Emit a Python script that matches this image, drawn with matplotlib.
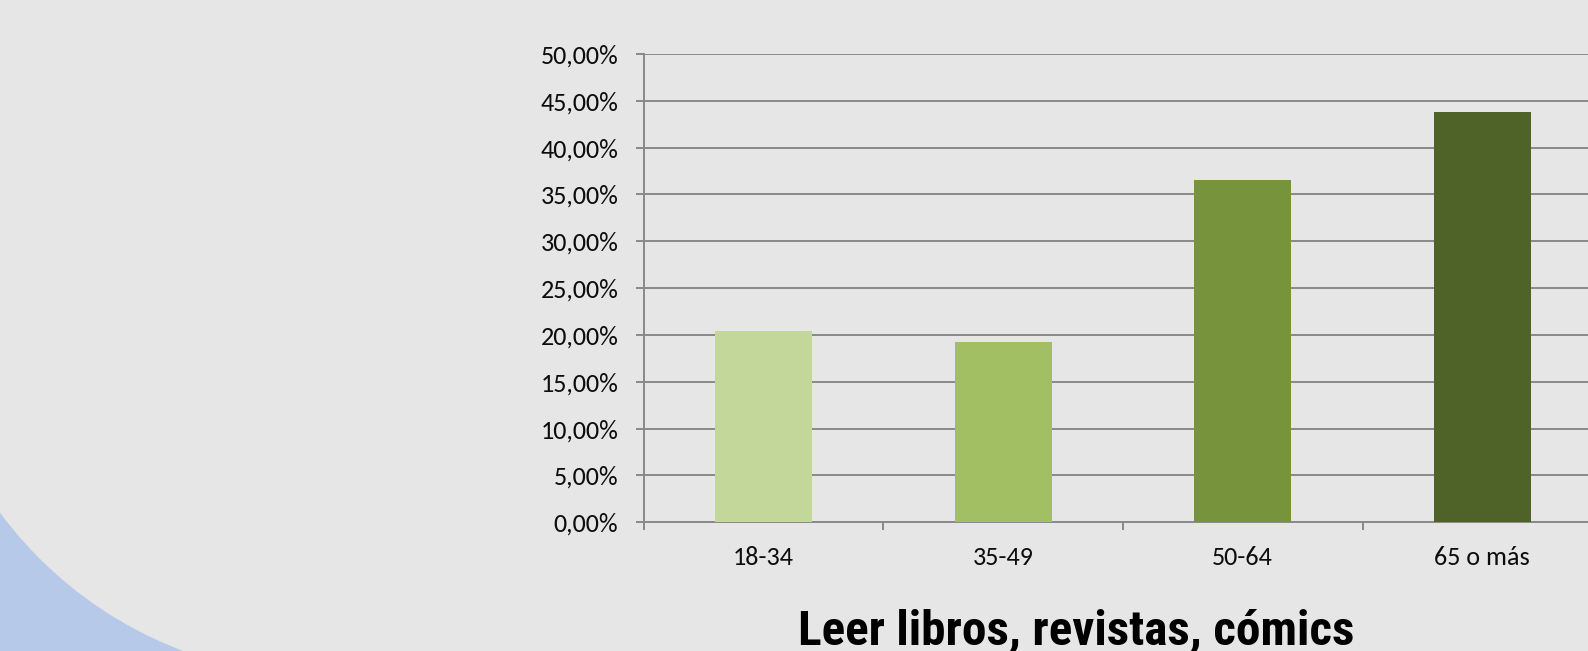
"""Bar chart: share of people who read books, magazines, comics, by age group."""

import matplotlib
matplotlib.use("Agg")
import matplotlib.pyplot as plt
from matplotlib import font_manager
from matplotlib.patches import Rectangle, Circle
from matplotlib.ticker import FuncFormatter, FixedLocator

AGE_GROUPS = ["18-34", "35-49", "50-64", "65 o más"]
SHARE = [0.2042, 0.1924, 0.3653, 0.4379]
BAR_COLORS = ["#c4d79b", "#a2bf63", "#77933c", "#4f6228"]
TITLE = "Leer libros, revistas, cómics"

BG = "#e6e6e6"
BLUE = "#b7c9e8"
GRID = "#898989"
INK = "#0d0d0d"

W, H = 1588, 651

# title font candidates with the size that gives the reference's width
TITLE_FONTS = [("Liberation Sans Narrow", 36), ("Roboto Condensed", 35.5),
               ("Roboto", 32), ("DejaVu Sans", 29)]


def has_family(name):
    try:
        font_manager.findfont(font_manager.FontProperties(family=name),
                              fallback_to_default=False)
        return True
    except Exception:
        return False


def main():
    label_font = next((f for f in ["Carlito", "Lato"] if has_family(f)), "DejaVu Sans")
    title_font, title_size = next((f, s) for f, s in TITLE_FONTS
                                  if has_family(f) or f == "DejaVu Sans")

    fig = plt.figure(figsize=(W / 100, H / 100), dpi=100)
    fig.patch.set_facecolor(BG)

    # background decoration: blue corner cut by a large gray circle
    bg = fig.add_axes([0, 0, 1, 1], zorder=0)
    bg.set_xlim(0, W)
    bg.set_ylim(H, 0)
    bg.axis("off")
    bg.add_patch(Rectangle((0, 450), 260, 210, color=BLUE, lw=0))
    bg.add_patch(Circle((325.3, 272.2), 404.5, color=BG, lw=0))

    ax = fig.add_axes([643.7 / W, (H - 522.3) / H, 958.4 / W, 468.3 / H], zorder=1)
    ax.set_facecolor("none")

    x = range(len(AGE_GROUPS))
    ax.bar(x, SHARE, width=0.405, color=BAR_COLORS, zorder=3)

    ax.set_xlim(-0.5, len(AGE_GROUPS) - 0.5)
    ax.set_ylim(0, 0.5)
    ax.set_yticks([i * 0.05 for i in range(11)])
    ax.yaxis.set_major_formatter(
        FuncFormatter(lambda v, _: f"{v * 100:.2f}".replace(".", ",") + "%"))

    ax.xaxis.set_major_locator(FixedLocator([i - 0.5 for i in range(len(AGE_GROUPS) + 1)]))
    ax.xaxis.set_major_formatter(FuncFormatter(lambda v, _: ""))
    ax.set_xticks(list(x), minor=True)
    ax.set_xticklabels(AGE_GROUPS, minor=True)

    ax.tick_params(axis="y", which="major", length=5.8, width=1.4, color=GRID,
                   pad=12.5, labelsize=18.8, labelcolor=INK)
    ax.tick_params(axis="x", which="major", length=5.8, width=1.4, color=GRID)
    ax.tick_params(axis="x", which="minor", length=0, pad=17, labelsize=18.8,
                   labelcolor=INK)
    for lab in ax.get_yticklabels() + ax.get_xticklabels(minor=True):
        lab.set_family(label_font)

    ax.yaxis.grid(True, color=GRID, linewidth=1.4, zorder=0)
    ax.set_axisbelow(True)

    for side in ("top", "right"):
        ax.spines[side].set_visible(False)
    for side in ("left", "bottom"):
        ax.spines[side].set_color(GRID)
        ax.spines[side].set_linewidth(1.4)

    fig.text(1076.5 / W, 6.5 / H, TITLE, ha="center", va="baseline",
             fontsize=title_size, fontweight="bold", family=title_font, color="black")

    fig.savefig("out.png", dpi=100, facecolor=BG)


if __name__ == "__main__":
    main()
